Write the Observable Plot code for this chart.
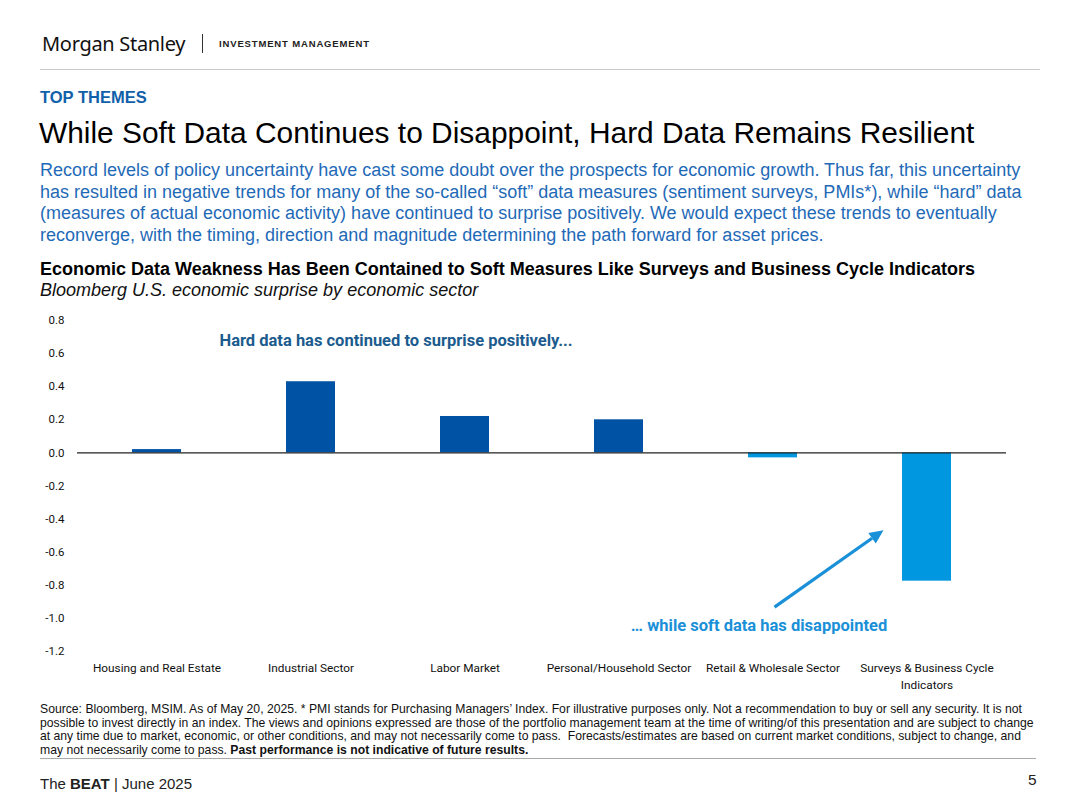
<!DOCTYPE html>
<html>
<head>
<meta charset="utf-8">
<script src="https://cdn.jsdelivr.net/npm/d3@7"></script>
<script src="https://cdn.jsdelivr.net/npm/@observablehq/plot@0.6"></script>
<style>
  html, body { margin: 0; padding: 0; background: #fff; }
  body { width: 1080px; height: 810px; position: relative; overflow: hidden; font-family: "Liberation Sans", Arial, sans-serif; }
  .abs { position: absolute; white-space: nowrap; }
  #logo { left: 42px; top: 30px; font-family: "Noto Sans", "Open Sans", sans-serif; font-size: 20px; color: #111; letter-spacing: -0.3px; }
  #bar { left: 202px; top: 34px; width: 1px; height: 19px; background: #333; }
  #im { left: 219px; top: 38px; font-size: 9.5px; font-weight: bold; letter-spacing: 0.85px; color: #222; }
  #hr1 { left: 40px; top: 69px; width: 1000px; height: 1px; background: #c8c8c8; }
  #theme { left: 40px; top: 88px; font-size: 16.5px; font-weight: bold; color: #1160aa; }
  #title { left: 39px; top: 116px; font-size: 29.9px; color: #000; }
  #sub { left: 40px; top: 160px; width: 995px; font-size: 18px; line-height: 21.5px; color: #1f6ab7; white-space: normal; }
  #ctitle { left: 40px; top: 259px; font-size: 18px; font-weight: bold; color: #000; }
  #csub { left: 40px; top: 280px; font-size: 18px; font-style: italic; color: #111; }
  #chart { left: 0; top: 305px; }
  #foot { left: 40px; top: 703px; font-family: "Liberation Sans Narrow", "Arial Narrow", sans-serif; font-size: 12.2px; line-height: 13.6px; color: #111; }
  #hr2 { left: 40px; top: 758px; width: 996px; height: 1px; background: #aaa; }
  #beat { left: 40px; top: 775px; font-family: "Liberation Sans Narrow", "Arial Narrow", sans-serif; font-size: 15px; color: #222; }
  #page { left: 1028px; top: 771px; font-family: "Liberation Sans Narrow", "Arial Narrow", sans-serif; font-size: 15.5px; color: #222; }
</style>
</head>
<body>
<div class="abs" id="logo">Morgan Stanley</div>
<div class="abs" id="bar"></div>
<div class="abs" id="im">INVESTMENT MANAGEMENT</div>
<div class="abs" id="hr1"></div>
<div class="abs" id="theme">TOP THEMES</div>
<div class="abs" id="title">While Soft Data Continues to Disappoint, Hard Data Remains Resilient</div>
<div class="abs" id="sub">Record levels of policy uncertainty have cast some doubt over the prospects for economic growth. Thus far, this uncertainty has resulted in negative trends for many of the so-called “soft” data measures (sentiment surveys, PMIs*), while “hard” data (measures of actual economic activity) have continued to surprise positively. We would expect these trends to eventually reconverge, with the timing, direction and magnitude determining the path forward for asset prices.</div>
<div class="abs" id="ctitle">Economic Data Weakness Has Been Contained to Soft Measures Like Surveys and Business Cycle Indicators</div>
<div class="abs" id="csub">Bloomberg U.S. economic surprise by economic sector</div>
<div class="abs" id="chart"></div>
<div class="abs" id="foot">Source: Bloomberg, MSIM. As of May 20, 2025. * PMI stands for Purchasing Managers’ Index. For illustrative purposes only. Not a recommendation to buy or sell any security. It is not<br>possible to invest directly in an index. The views and opinions expressed are those of the portfolio management team at the time of writing/of this presentation and are subject to change<br>at any time due to market, economic, or other conditions, and may not necessarily come to pass.&nbsp; Forecasts/estimates are based on current market conditions, subject to change, and<br>may not necessarily come to pass. <b>Past performance is not indicative of future results.</b></div>
<div class="abs" id="hr2"></div>
<div class="abs" id="beat">The <b>BEAT</b> | June 2025</div>
<div class="abs" id="page">5</div>

<script>
// ---- data ----
const categories = [
  "Housing and Real Estate",
  "Industrial Sector",
  "Labor Market",
  "Personal/Household Sector",
  "Retail & Wholesale Sector",
  "Surveys & Business Cycle Indicators"
];
const tickLabels = [
  "Housing and Real Estate",
  "Industrial Sector",
  "Labor Market",
  "Personal/Household Sector",
  "Retail & Wholesale Sector",
  "Surveys & Business Cycle\nIndicators"
];
const values = [0.02, 0.43, 0.22, 0.20, -0.03, -0.775];
const dataType = ["Hard", "Hard", "Hard", "Hard", "Soft", "Soft"];
const yTicks = [0.8, 0.6, 0.4, 0.2, 0.0, -0.2, -0.4, -0.6, -0.8, -1.0, -1.2];

const hardColor = "#0052a5";
const softColor = "#0096e0";

const rows = categories.map((c, i) => ({category: c, value: values[i], type: dataType[i]}));
const labelOf = new Map(categories.map((c, i) => [c, tickLabels[i]]));

const fontAxis = "Roboto, 'Noto Sans', sans-serif";

// annotation arrow drawn with the plot's own scales
function arrowMark(index, scales, values, dims) {
  const x0 = scales.x(categories[4]) + scales.x.bandwidth() / 2 + 2;
  const x1 = scales.x(categories[5]) + scales.x.bandwidth() / 2 - 43;
  const y0 = scales.y(-0.935);
  const y1 = scales.y(-0.47);
  const g = d3.create("svg:g");
  const ang = Math.atan2(y1 - y0, x1 - x0);
  const L = 14, W = 6.5;
  const bx = x1 - L * Math.cos(ang), by = y1 - L * Math.sin(ang);
  g.append("line")
    .attr("x1", x0).attr("y1", y0).attr("x2", bx).attr("y2", by)
    .attr("stroke", "#1a90d8").attr("stroke-width", 3.2);
  g.append("path")
    .attr("d", `M${x1},${y1} L${bx - W * Math.sin(ang)},${by + W * Math.cos(ang)} L${bx + W * Math.sin(ang)},${by - W * Math.cos(ang)} Z`)
    .attr("fill", "#1a90d8");
  return g.node();
}

const chart = Plot.plot({
  width: 1080,
  height: 395,
  marginTop: 15,
  marginBottom: 49,
  marginLeft: 77,
  marginRight: 74,
  style: {fontFamily: fontAxis, fontSize: "11.5px", color: "#111", background: "transparent", overflow: "visible"},
  x: {domain: categories, paddingInner: 0.68, paddingOuter: 0.34, label: null},
  y: {domain: [-1.2, 0.8], label: null},
  marks: [
    Plot.barY(rows, {x: "category", y: "value", fill: d => d.type === "Hard" ? hardColor : softColor}),
    Plot.ruleY([0], {stroke: "#222", strokeWidth: 1.2}),
    Plot.axisY({ticks: yTicks, tickSize: 0, tickPadding: 13, tickFormat: d => d.toFixed(1), fontSize: 11.5, fill: "#111", label: null}),
    Plot.axisX({tickSize: 0, tickPadding: 8, tickFormat: d => labelOf.get(d), fontSize: 11.8, fill: "#111", lineHeight: 1.44, label: null}),
    Plot.text(["Hard data has continued to surprise positively..."], {
      x: () => categories[1], y: () => 0.675, dx: 85, text: d => d,
      fontFamily: "Roboto, sans-serif", fontWeight: "bold", fontSize: 16.5, fill: "#1b5b8e", textAnchor: "middle"
    }),
    Plot.text(["… while soft data has disappointed"], {
      x: () => categories[4], y: () => -1.045, dx: -14, text: d => d,
      fontFamily: "Roboto, sans-serif", fontWeight: "bold", fontSize: 16.5, fill: "#1a90d8", textAnchor: "middle"
    }),
    arrowMark
  ]
});
document.getElementById("chart").appendChild(chart);
</script>
</body>
</html>
